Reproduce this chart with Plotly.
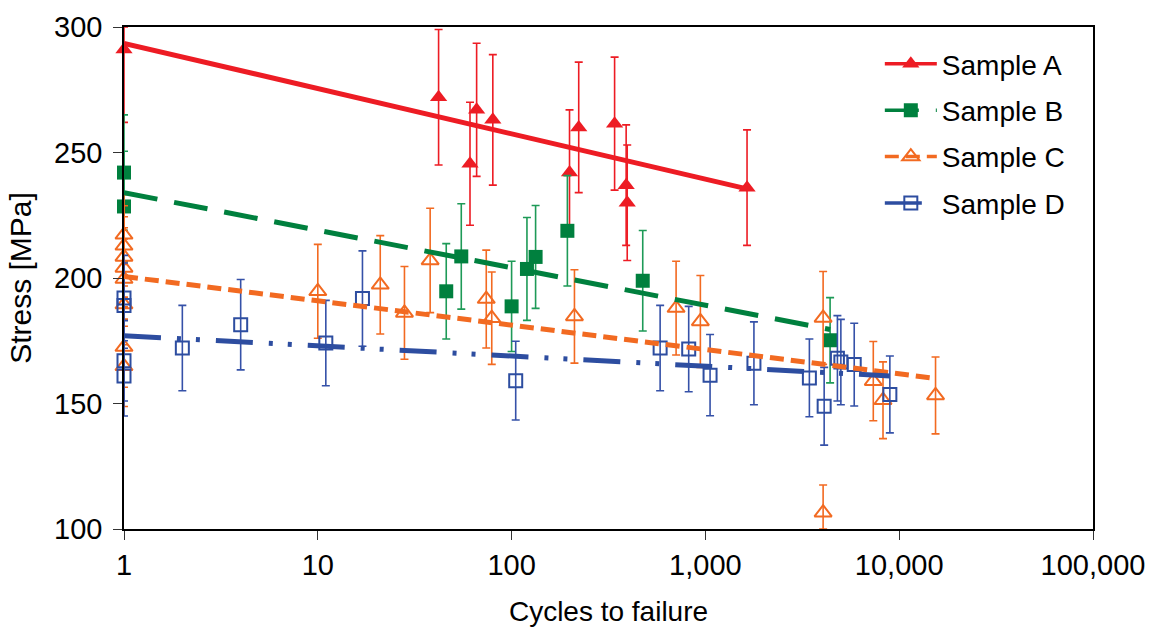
import plotly.graph_objects as go

# ---- measured data: cycles to failure vs. stress (mean ± error) ----
a_cycles = [1, 42, 61, 66, 80, 199, 222, 340, 390, 395, 1640]
a_stress = [291, 272, 245.5, 267, 263, 242, 260, 261.5, 237, 230, 236]
a_err = [29, 27, 24.5, 26.5, 26, 25, 26, 26.5, 24, 23, 23]

b_cycles = [1, 1, 46, 55, 100, 120, 133, 194, 475, 4400]
b_stress = [242, 228.5, 194.7, 208.6, 188.7, 203.6, 208.4, 218.8, 198.9, 175.2]
b_err = [23, 22, 19, 21, 18, 20.5, 20.5, 22, 20, 17]

c_cycles = [1, 1, 1, 1, 1, 1, 1, 1, 10, 21, 28, 38, 74, 79, 211, 706, 942,
            4050, 4050, 7350, 8250, 15400]
c_stress = [217.2, 212.8, 208.4, 204, 199.6, 189.4, 172.5, 164.8, 194.7, 197.3,
            186.1, 207, 191.6, 184, 184.7, 188, 182.7, 184.1, 106.5, 158.9, 151.3, 153.2]
c_err = [16, 16, 16, 16, 16, 16, 16, 16, 18.7, 19.6, 18.5, 20.8, 19.5, 18.4,
         18.6, 18.7, 18.3, 18.5, 11, 15.8, 15.3, 15.3]

d_cycles = [1, 1, 1, 1, 2, 4, 11, 17, 105, 584, 820, 1057, 1780, 3440, 4100,
            4800, 5000, 5860, 8950]
d_stress = [192, 189, 167, 161, 172.1, 181.4, 174.1, 191.8, 159.1, 172.1, 171.7,
            161.3, 166, 160.2, 148.9, 168, 166.5, 165.5, 153.6]
d_err = [17, 17, 16, 16, 17, 18, 17, 19, 15.7, 17, 17, 16.2, 16.5, 15.5, 15.5,
         17, 17, 16.5, 15.3]

# logarithmic trend lines (end points)
a_trend_x, a_trend_y = [1, 1640], [293.5, 235.5]
b_trend_x, b_trend_y = [1, 4400], [234, 179.5]
c_trend_x, c_trend_y = [1, 15400], [200.6, 160]
d_trend_x, d_trend_y = [1, 8950], [177, 161]

names = ["Sample A", "Sample B", "Sample C", "Sample D"]
x_tick_vals = [1, 10, 100, 1000, 10000, 100000]
x_tick_text = ["1", "10", "100", "1,000", "10,000", "100,000"]
y_tick_vals = [100, 150, 200, 250, 300]

Y_MIN, Y_MAX = 100, 300
FONT = "Liberation Sans, Arial, sans-serif"

series = [
    dict(x=a_cycles, y=a_stress, e=a_err, tx=a_trend_x, ty=a_trend_y,
         color="#ED1C24", ecolor="#ED1C24", symbol="triangle-up", msize=15,
         filled=True, dash="solid", lw=5),
    dict(x=b_cycles, y=b_stress, e=b_err, tx=b_trend_x, ty=b_trend_y,
         color="#00803E", ecolor="#1E9A57", symbol="square", msize=14,
         filled=True, dash="34px,17px", lw=5),
    dict(x=c_cycles, y=c_stress, e=c_err, tx=c_trend_x, ty=c_trend_y,
         color="#F26A21", ecolor="#F26A21", symbol="triangle-up-open", msize=15,
         filled=False, dash="14px,7px", lw=5),
    dict(x=d_cycles, y=d_stress, e=d_err, tx=d_trend_x, ty=d_trend_y,
         color="#2D4DA0", ecolor="#3551A8", symbol="square-open", msize=13,
         filled=False, dash="37px,16px,4px,15px,4px,16px", lw=5),
]

fig = go.Figure()

# error bars are cut off at the plot frame
for s in series:
    up = [min(e, Y_MAX - y) for y, e in zip(s["y"], s["e"])]
    down = [min(e, y - Y_MIN) for y, e in zip(s["y"], s["e"])]
    fig.add_trace(go.Scatter(
        x=s["x"], y=s["y"], mode="markers", showlegend=False, cliponaxis=False,
        marker=dict(symbol=s["symbol"], size=s["msize"], color=s["color"],
                    line=dict(color=s["color"], width=2 if not s["filled"] else 0)),
        error_y=dict(type="data", symmetric=False, array=up, arrayminus=down,
                     color=s["ecolor"], thickness=1.6, width=4),
    ))

for s in series:
    fig.add_trace(go.Scatter(
        x=s["tx"], y=s["ty"], mode="lines", showlegend=False,
        line=dict(color=s["color"], width=s["lw"], dash=s["dash"]),
    ))

# legend entries: line with marker
for name, s in zip(names, series):
    fig.add_trace(go.Scatter(
        x=[None], y=[None], mode="lines+markers", name=name, legendgroup=name,
        line=dict(color=s["color"], width=3.5, dash=s["dash"]),
        marker=dict(symbol=s["symbol"], size=s["msize"], color=s["color"],
                    line=dict(color=s["color"], width=2 if not s["filled"] else 0)),
    ))

fig.update_layout(
    width=1150, height=629,
    margin=dict(l=124, r=57, t=27, b=100),
    paper_bgcolor="white", plot_bgcolor="white",
    font=dict(family=FONT, color="black"),
    legend=dict(x=0.780, y=0.976, xanchor="left", yanchor="top",
                font=dict(size=28, family=FONT), bgcolor="rgba(0,0,0,0)",
                tracegroupgap=7, itemwidth=52, traceorder="grouped"),
)

fig.update_xaxes(
    type="log", range=[0, 5], tickvals=x_tick_vals, ticktext=x_tick_text,
    ticks="outside", ticklen=9, tickwidth=1.2, tickcolor="#333",
    showline=True, linecolor="black", linewidth=1.5, mirror=True,
    showgrid=False, zeroline=False, tickfont=dict(size=29), automargin=False,
    title=dict(text="Cycles to failure", font=dict(size=28), standoff=22),
)
fig.update_yaxes(
    range=[Y_MIN, Y_MAX], tickvals=y_tick_vals,
    ticks="outside", ticklen=9, tickwidth=1.2, tickcolor="#333",
    showline=True, linecolor="black", linewidth=1.5, mirror=True,
    showgrid=False, zeroline=False, tickfont=dict(size=29), ticklabelstandoff=5,
    automargin=False,
    title=dict(text="Stress [MPa]", font=dict(size=30), standoff=14),
)

fig.write_html("out.html")
